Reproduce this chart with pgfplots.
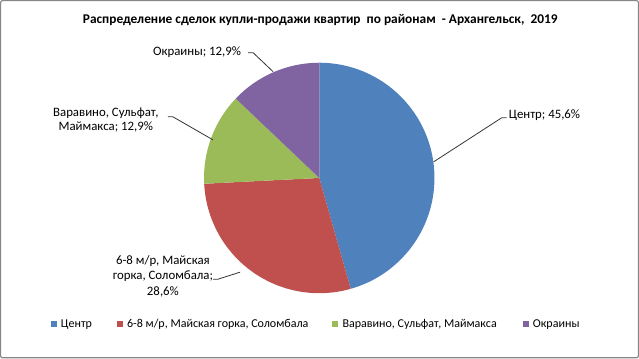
\documentclass[border=0pt]{standalone}
\usepackage{fontspec}
\setmainfont{Carlito}
\usepackage{pgfplots}
\usepackage{pgfplotstable}
\pgfplotsset{compat=1.18}
\definecolor{cA}{HTML}{4F81BD}
\definecolor{cB}{HTML}{C0504D}
\definecolor{cC}{HTML}{9BBB59}
\definecolor{cD}{HTML}{8064A2}
\definecolor{frame}{HTML}{868686}

\pgfplotstableread{
id value
1 45.6
2 28.6
3 12.9
4 12.9
}\piedata

\pgfplotstablegetelem{0}{value}\of\piedata \let\vA\pgfplotsretval
\pgfplotstablegetelem{1}{value}\of\piedata \let\vB\pgfplotsretval
\pgfplotstablegetelem{2}{value}\of\piedata \let\vC\pgfplotsretval
\pgfplotstablegetelem{3}{value}\of\piedata \let\vD\pgfplotsretval
\pgfmathsetmacro\aO{90}
\pgfmathsetmacro\aA{\aO-3.6*\vA}
\pgfmathsetmacro\aB{\aA-3.6*\vB}
\pgfmathsetmacro\aC{\aB-3.6*\vC}
\pgfmathsetmacro\aD{\aC-3.6*\vD}
\def\R{86.25pt}

\begin{document}
\begin{tikzpicture}
\begin{axis}[x=0.75pt,y=0.75pt,xmin=0,xmax=639,ymin=0,ymax=359,
  y dir=reverse, hide axis, clip=false, scale only axis]
\draw[frame, line width=0.9pt, rounded corners=1.5pt] (axis cs:1,1) rectangle (axis cs:637.5,357.5);

\node[font=\bfseries\fontsize{10}{12}\selectfont] at (axis cs:320,20)
  {Распределение сделок купли-продажи квартир\ \ по районам\ \ - Архангельск,\ \ 2019};

% pie
\fill[cA] (axis cs:319,178) -- +(\aO:\R) arc[start angle=\aO, end angle=\aA, radius=\R] -- cycle;
\fill[cB] (axis cs:319,178) -- +(\aA:\R) arc[start angle=\aA, end angle=\aB, radius=\R] -- cycle;
\fill[cC] (axis cs:319,178) -- +(\aB:\R) arc[start angle=\aB, end angle=\aC, radius=\R] -- cycle;
\fill[cD] (axis cs:319,178) -- +(\aC:\R) arc[start angle=\aC, end angle=\aD, radius=\R] -- cycle;

% labels
\begin{scope}[every node/.style={font=\fontsize{9.6}{11}\selectfont, inner sep=0pt}]
\draw[black!80, line width=0.6pt] (axis cs:433,162) -- (axis cs:501,118) -- (axis cs:506,118);
\node[anchor=west] at (axis cs:508,115) {Центр; 45,6\%};

\draw[black!80, line width=0.6pt] (axis cs:168,117) -- (axis cs:173,117) -- (axis cs:213,140);
\node[align=center, font=\fontsize{9.6}{10.5}\selectfont] at (axis cs:106,120) {Варавино, Сульфат,\\Маймакса; 12,9\%};

\draw[black!80, line width=0.6pt] (axis cs:213,279) -- (axis cs:218,279) -- (axis cs:240,272);
\node[align=center, font=\fontsize{9.6}{11.5}\selectfont] at (axis cs:163,276) {6-8 м/р, Майская\\горка, Соломбала;\\28,6\%};

\draw[black!80, line width=0.6pt] (axis cs:248,53) -- (axis cs:253,53) -- (axis cs:273,72);
\node[anchor=west] at (axis cs:153,52) {Окраины; 12,9\%};
\end{scope}

% legend
\begin{scope}[every node/.style={font=\fontsize{9}{11}\selectfont, inner sep=0pt}]
\fill[cA] (axis cs:51,321) rectangle (axis cs:57,327);
\node[anchor=west] at (axis cs:61,324) {Центр};
\fill[cB] (axis cs:117,321) rectangle (axis cs:123,327);
\node[anchor=west] at (axis cs:127,324) {6-8 м/р, Майская горка, Соломбала};
\fill[cC] (axis cs:332,321) rectangle (axis cs:338,327);
\node[anchor=west] at (axis cs:342,324) {Варавино, Сульфат, Маймакса};
\fill[cD] (axis cs:522,321) rectangle (axis cs:528,327);
\node[anchor=west] at (axis cs:532,324) {Окраины};
\end{scope}
\end{axis}
\end{tikzpicture}
\end{document}
